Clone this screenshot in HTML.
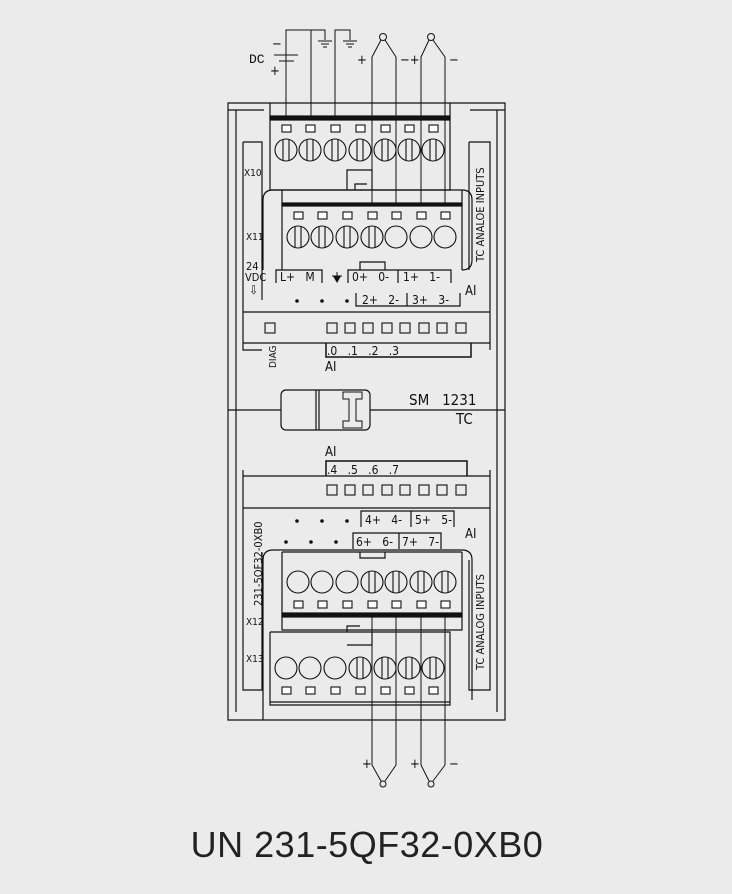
<!DOCTYPE html>
<html><head><style>
html,body{margin:0;padding:0;background:#ebebeb;}
svg{display:block;}
text{font-family:"DejaVu Sans Condensed","Liberation Sans",sans-serif;fill:#111;white-space:pre;}
</style></head><body>
<svg width="732" height="894" viewBox="0 0 732 894" xmlns="http://www.w3.org/2000/svg">
<rect width="732" height="894" fill="#ebebeb"/>
<g stroke="#111" stroke-width="1.2" fill="none">
<path d="M228 103 H505 V720 H228 Z"/>
<path d="M236 110 V712 M497 110 V712"/>
<path d="M228 110 H264 M470 110 H505"/>
<path d="M243 142 H262 V300 M243 142 V350 H262"/>
<path d="M243 470 V690 H262 V552"/>
<path d="M469 142 H490 V350 M469 142 V270"/>
<path d="M469 560 V690 H490 V470"/>
<path d="M270 103 V190 H450 V103"/>
<rect x="270" y="116" width="180" height="4" fill="#111"/>
<path d="M347 190 V170 H372 V190 M355 190 V184 H367"/>
<path d="M263 270 V200 Q263 190 273 190 H462 Q472 190 472 200 V260 Q472 270 462 270"/>
<path d="M282 190 V270 M462 190 V270"/>
<rect x="282" y="203" width="180" height="3" fill="#111"/>
<path d="M360 270 V262 H385 V270"/>
<path d="M276 283 V270 H322 V283 M348 283 V270 H451 V283 M398 270 V283"/>
<path d="M356 293 V306 H460 V293 M407 293 V306"/>
<path d="M243 312 H490 M243 343 H490"/>
<path d="M326 343 V357 H471 V343" stroke-width="1.5"/>
<path d="M228 410 H281 M370 410 H505"/>
<rect x="281" y="390" width="89" height="40" rx="5"/>
<path d="M316 390 V430 M319 390 V430"/>
<path d="M343 392 H362 V399 H356 V421 H362 V428 H343 V421 H349 V399 H343 Z" stroke-width="1"/>
<path d="M326 476 V461 H467 V476" stroke-width="1.5"/>
<path d="M243 476 H490 M243 508 H490"/>
<path d="M361 527 V511 H454 V527 M411 511 V527"/>
<path d="M353 549 V533 H441 V549 M399 533 V549"/>
<path d="M263 720 V560 Q263 550 273 550 H462 Q472 550 472 560 V700"/>
<path d="M282 552 V630 H462 V552 M282 552 H462"/>
<rect x="282" y="613" width="180" height="4" fill="#111"/>
<path d="M360 552 V558 H385 V552"/>
<path d="M270 632 V705 H450 V632 H270"/>
<path d="M347 632 V626 H360 M347 645 H372 V632"/>
<path d="M270 702 H450"/>
</g>
<g stroke="#111" stroke-width="1.1" fill="none">
<g fill="#fff">
<rect x="282" y="125" width="9" height="7"/><rect x="306" y="125" width="9" height="7"/><rect x="331" y="125" width="9" height="7"/><rect x="356" y="125" width="9" height="7"/><rect x="381" y="125" width="9" height="7"/><rect x="405" y="125" width="9" height="7"/><rect x="429" y="125" width="9" height="7"/>
<rect x="294" y="212" width="9" height="7"/><rect x="318" y="212" width="9" height="7"/><rect x="343" y="212" width="9" height="7"/><rect x="368" y="212" width="9" height="7"/><rect x="392" y="212" width="9" height="7"/><rect x="417" y="212" width="9" height="7"/><rect x="441" y="212" width="9" height="7"/>
<rect x="294" y="601" width="9" height="7"/><rect x="318" y="601" width="9" height="7"/><rect x="343" y="601" width="9" height="7"/><rect x="368" y="601" width="9" height="7"/><rect x="392" y="601" width="9" height="7"/><rect x="417" y="601" width="9" height="7"/><rect x="441" y="601" width="9" height="7"/>
<rect x="282" y="687" width="9" height="7"/><rect x="306" y="687" width="9" height="7"/><rect x="331" y="687" width="9" height="7"/><rect x="356" y="687" width="9" height="7"/><rect x="381" y="687" width="9" height="7"/><rect x="405" y="687" width="9" height="7"/><rect x="429" y="687" width="9" height="7"/>
</g>
<g>
<circle cx="286" cy="150" r="11"/><circle cx="310" cy="150" r="11"/><circle cx="335" cy="150" r="11"/><circle cx="360" cy="150" r="11"/><circle cx="385" cy="150" r="11"/><circle cx="409" cy="150" r="11"/><circle cx="433" cy="150" r="11"/>
<path d="M283 139 V161 M289 139 V161 M307 139 V161 M313 139 V161 M332 139 V161 M338 139 V161 M357 139 V161 M363 139 V161 M382 139 V161 M388 139 V161 M406 139 V161 M412 139 V161 M430 139 V161 M436 139 V161"/>
<circle cx="298" cy="237" r="11"/><circle cx="322" cy="237" r="11"/><circle cx="347" cy="237" r="11"/><circle cx="372" cy="237" r="11"/><circle cx="396" cy="237" r="11"/><circle cx="421" cy="237" r="11"/><circle cx="445" cy="237" r="11"/>
<path d="M295 226 V248 M301 226 V248 M319 226 V248 M325 226 V248 M344 226 V248 M350 226 V248 M369 226 V248 M375 226 V248"/>
<circle cx="298" cy="582" r="11"/><circle cx="322" cy="582" r="11"/><circle cx="347" cy="582" r="11"/><circle cx="372" cy="582" r="11"/><circle cx="396" cy="582" r="11"/><circle cx="421" cy="582" r="11"/><circle cx="445" cy="582" r="11"/>
<path d="M369 571 V593 M375 571 V593 M393 571 V593 M399 571 V593 M418 571 V593 M424 571 V593 M442 571 V593 M448 571 V593"/>
<circle cx="286" cy="668" r="11"/><circle cx="310" cy="668" r="11"/><circle cx="335" cy="668" r="11"/><circle cx="360" cy="668" r="11"/><circle cx="385" cy="668" r="11"/><circle cx="409" cy="668" r="11"/><circle cx="433" cy="668" r="11"/>
<path d="M357 657 V679 M363 657 V679 M382 657 V679 M388 657 V679 M406 657 V679 M412 657 V679 M430 657 V679 M436 657 V679"/>
</g>
<rect x="265" y="323" width="10" height="10"/>
<rect x="327" y="323" width="10" height="10"/><rect x="345" y="323" width="10" height="10"/><rect x="363" y="323" width="10" height="10"/><rect x="382" y="323" width="10" height="10"/><rect x="400" y="323" width="10" height="10"/><rect x="419" y="323" width="10" height="10"/><rect x="437" y="323" width="10" height="10"/><rect x="456" y="323" width="10" height="10"/>
<rect x="327" y="485" width="10" height="10"/><rect x="345" y="485" width="10" height="10"/><rect x="363" y="485" width="10" height="10"/><rect x="382" y="485" width="10" height="10"/><rect x="400" y="485" width="10" height="10"/><rect x="419" y="485" width="10" height="10"/><rect x="437" y="485" width="10" height="10"/><rect x="456" y="485" width="10" height="10"/>
</g>
<g stroke="#111" stroke-width="1" fill="none">
<path d="M286 116 V55 M274 55 H298 M279 61 H294"/>
<path d="M286 55 V30 H311 V116 M311 30 H325 V40 M318 41 H332 M321 44 H329 M323 47 H327"/>
<path d="M335 116 V30 H350 V40 M343 41 H357 M346 44 H354 M348 47 H352"/>
<path d="M372 204 V57 L381 40 M396 204 V57 L385 40"/>
<circle cx="383" cy="37" r="3.5"/>
<path d="M421 204 V57 L429 40 M445 204 V57 L433 40"/>
<circle cx="431" cy="37" r="3.5"/>
<path d="M372 614 V765 L381 781 M396 614 V765 L385 781"/>
<circle cx="383" cy="784" r="3"/>
<path d="M421 614 V765 L429 781 M445 614 V765 L433 781"/>
<circle cx="431" cy="784" r="3"/>
<path d="M337 272 V282 M332 276 H342"/>
</g>
<path d="M333 276 H341 L337 283 Z" fill="#111"/>
<g fill="#111">
<circle cx="297" cy="301" r="1.8"/><circle cx="322" cy="301" r="1.8"/><circle cx="347" cy="301" r="1.8"/>
<circle cx="297" cy="521" r="1.8"/><circle cx="322" cy="521" r="1.8"/><circle cx="347" cy="521" r="1.8"/>
<circle cx="286" cy="542" r="1.8"/><circle cx="311" cy="542" r="1.8"/><circle cx="336" cy="542" r="1.8"/>
</g>
<g font-size="11">
<text x="249" y="63" style="font-family:'Liberation Mono',monospace;font-size:13px">DC</text>
<text x="272" y="48" font-size="13">−</text>
<text x="270" y="75" font-size="13">+</text>
<text x="357" y="64" font-size="13">+</text>
<text x="400" y="64" font-size="13">−+</text>
<text x="449" y="64" font-size="13">−</text>
<text x="362" y="768" font-size="13">+</text>
<text x="410" y="768" font-size="13">+</text>
<text x="449" y="768" font-size="13">−</text>
<text x="244" y="176" font-size="10">X10</text>
<text x="246" y="240" font-size="10">X11</text>
<text x="246" y="625" font-size="10">X12</text>
<text x="246" y="662" font-size="10">X13</text>
<text x="246" y="270" font-size="11">24</text>
<text x="245" y="281" font-size="11">VDC</text>
<text x="249" y="294" font-size="12">⇩</text>
<text x="280" y="281" font-size="12">L+   M</text>
<text x="352" y="281" font-size="12">0+   0-</text>
<text x="403" y="281" font-size="12">1+   1-</text>
<text x="362" y="304" font-size="12">2+   2-</text>
<text x="412" y="304" font-size="12">3+   3-</text>
<text x="465" y="295" font-size="13">AI</text>
<text x="327" y="355" font-size="12">.0   .1   .2   .3</text>
<text x="325" y="371" font-size="13">AI</text>
<text transform="translate(276,368) rotate(-90)" font-size="10">DIAG</text>
<text x="409" y="405" font-size="15">SM   1231</text>
<text x="456" y="424" font-size="15">TC</text>
<text x="325" y="456" font-size="13">AI</text>
<text x="327" y="474" font-size="12">.4   .5   .6   .7</text>
<text x="365" y="524" font-size="12">4+   4-</text>
<text x="415" y="524" font-size="12">5+   5-</text>
<text x="356" y="546" font-size="12">6+   6-</text>
<text x="402" y="546" font-size="12">7+   7-</text>
<text x="465" y="538" font-size="13">AI</text>
<text transform="translate(262,606) rotate(-90)" font-size="11">231-5QF32-0XB0</text>
<text transform="translate(484,262) rotate(-90)" font-size="11">TC ANALOE INPUTS</text>
<text transform="translate(484,670) rotate(-90)" font-size="11">TC ANALOG INPUTS</text>
<text x="367" y="857" text-anchor="middle" style="font-family:'Liberation Sans',sans-serif;font-size:36px;fill:#222;letter-spacing:0.5px">UN 231-5QF32-0XB0</text>
</g>
</svg>
</body></html>
